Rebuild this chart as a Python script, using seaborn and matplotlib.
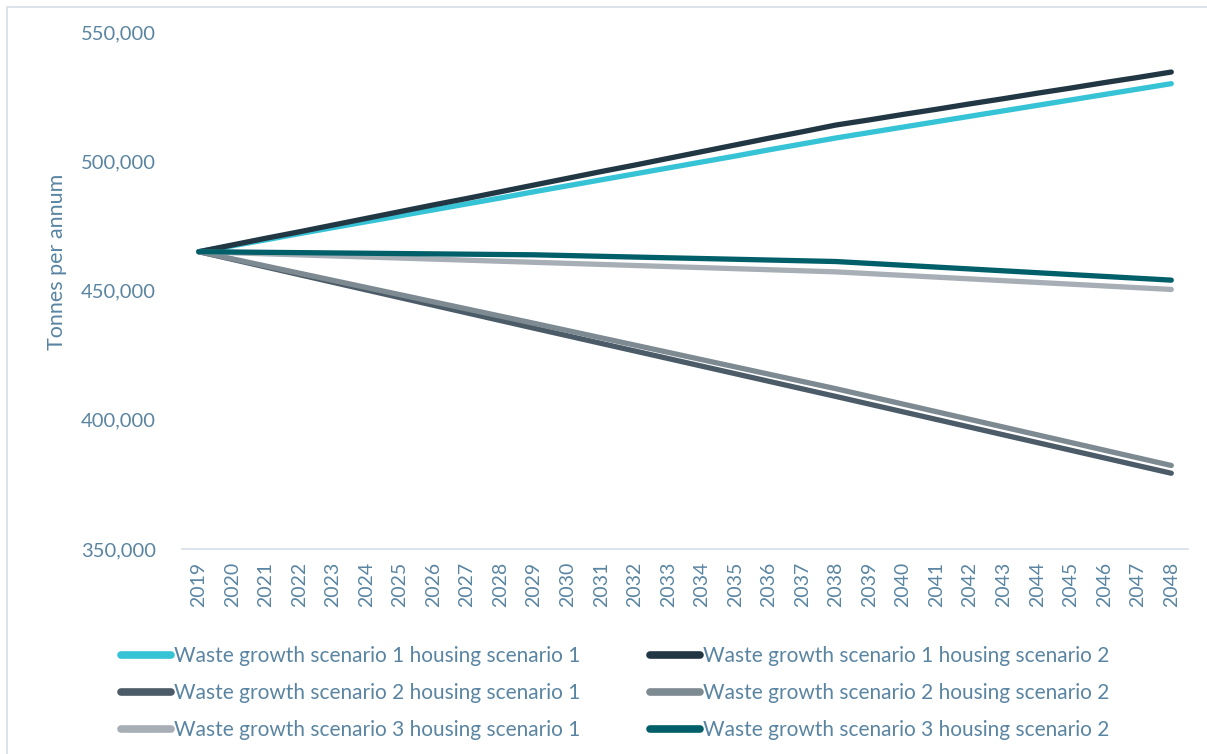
import matplotlib
matplotlib.use("Agg")
import matplotlib.pyplot as plt
import seaborn as sns
import pandas as pd
from matplotlib.patches import Rectangle
from matplotlib.ticker import FuncFormatter

years = list(range(2019, 2049))

wg1_h1 = [465000, 467300, 469600, 472000, 474300, 476600, 478900, 481200, 483500, 485800,
          488200, 490500, 492800, 495100, 497400, 499700, 502000, 504400, 506700, 509000,
          511100, 513200, 515300, 517400, 519500, 521600, 523700, 525800, 527900, 530000]
wg1_h2 = [465000, 467600, 470200, 472700, 475300, 477900, 480500, 483100, 485600, 488200,
          490800, 493400, 496000, 498500, 501100, 503700, 506300, 508900, 511400, 514000,
          516000, 518100, 520100, 522200, 524200, 526300, 528300, 530400, 532400, 534500]
wg2_h1 = [465000, 462040, 459080, 456120, 453160, 450200, 447240, 444280, 441320, 438360,
          435400, 432470, 429530, 426600, 423670, 420730, 417800, 414870, 411930, 409000,
          406030, 403060, 400090, 397120, 394150, 391180, 388210, 385240, 382270, 379300]
wg2_h2 = [465000, 462230, 459460, 456690, 453920, 451150, 448380, 445610, 442840, 440070,
          437300, 434490, 431680, 428870, 426060, 423240, 420430, 417620, 414810, 412000,
          409030, 406060, 403090, 400120, 397150, 394180, 391210, 388240, 385270, 382300]
wg3_h1 = [465000, 464590, 464180, 463770, 463360, 462950, 462540, 462130, 461720, 461310,
          460900, 460490, 460080, 459670, 459260, 458850, 458440, 458030, 457620, 457200,
          456520, 455840, 455160, 454480, 453800, 453120, 452440, 451760, 451080, 450400]
wg3_h2 = [465000, 464880, 464760, 464640, 464520, 464400, 464280, 464160, 464040, 463920,
          463800, 463510, 463220, 462930, 462640, 462360, 462070, 461780, 461490, 461200,
          460480, 459760, 459040, 458320, 457600, 456880, 456160, 455440, 454720, 454000]

series_names = [
    "Waste growth scenario 1 housing scenario 1",
    "Waste growth scenario 1 housing scenario 2",
    "Waste growth scenario 2 housing scenario 1",
    "Waste growth scenario 2 housing scenario 2",
    "Waste growth scenario 3 housing scenario 1",
    "Waste growth scenario 3 housing scenario 2",
]
series_values = [wg1_h1, wg1_h2, wg2_h1, wg2_h2, wg3_h1, wg3_h2]
colors = ["#35c3d5", "#223744", "#4b5b67", "#7d8a91", "#a7aeb5", "#005f69"]

df = pd.DataFrame({
    "year": [y for _ in series_names for y in years],
    "tonnes": [v for vals in series_values for v in vals],
    "scenario": [n for n in series_names for _ in years],
})

sns.set_theme(style="white")
plt.rcParams["font.family"] = ["Lato", "DejaVu Sans"]
text_col = "#5a85a2"

fig = plt.figure(figsize=(12.07, 7.54), dpi=100)
ax = fig.add_axes([0.1508, 0.2719, 0.8335, 0.6857])

sns.lineplot(data=df, x="year", y="tonnes", hue="scenario", hue_order=series_names,
             palette=colors, linewidth=3.8, ax=ax, legend=False,
             solid_capstyle="round", solid_joinstyle="round")

ax.set_xlim(2018.5, 2048.5)
ax.set_ylim(350000, 550000)
ax.set_yticks([350000, 400000, 450000, 500000, 550000])
ax.yaxis.set_major_formatter(FuncFormatter(lambda v, p: f"{int(v):,}"))
ax.set_xticks(years)
ax.set_xticklabels([str(y) for y in years], rotation=90)
ax.tick_params(axis="y", length=0, labelsize=14.5, labelcolor=text_col, pad=19)
ax.tick_params(axis="x", length=0, labelsize=14, labelcolor=text_col, pad=9)
ax.set_xlabel("")
ax.set_ylabel("Tonnes per annum", fontsize=15.5, color=text_col)
ax.yaxis.set_label_coords(-0.114, 0.555)

for side in ["top", "right", "left"]:
    ax.spines[side].set_visible(False)
ax.spines["bottom"].set_color("#d9e0e8")
ax.spines["bottom"].set_linewidth(1.3)

# figure frame
fig.patches.append(Rectangle((7 / 1207, -0.05), 1.2, 1 - 7 / 754 + 0.05,
                             transform=fig.transFigure, fill=False,
                             edgecolor="#d9e0e8", linewidth=1.3))

handles = [plt.Line2D([0], [0], color=c, linewidth=5.5, solid_capstyle="round") for c in colors]
order = [0, 2, 4, 1, 3, 5]
fig.legend([handles[i] for i in order], [series_names[i] for i in order],
           ncol=2, loc="upper left", bbox_to_anchor=(113 / 1207, 1 - 638 / 754),
           frameon=False, fontsize=15, labelcolor=text_col,
           handlelength=2.4, handletextpad=0.15, columnspacing=3.3, labelspacing=0.82,
           borderaxespad=0)

fig.savefig("out.png", dpi=100)
